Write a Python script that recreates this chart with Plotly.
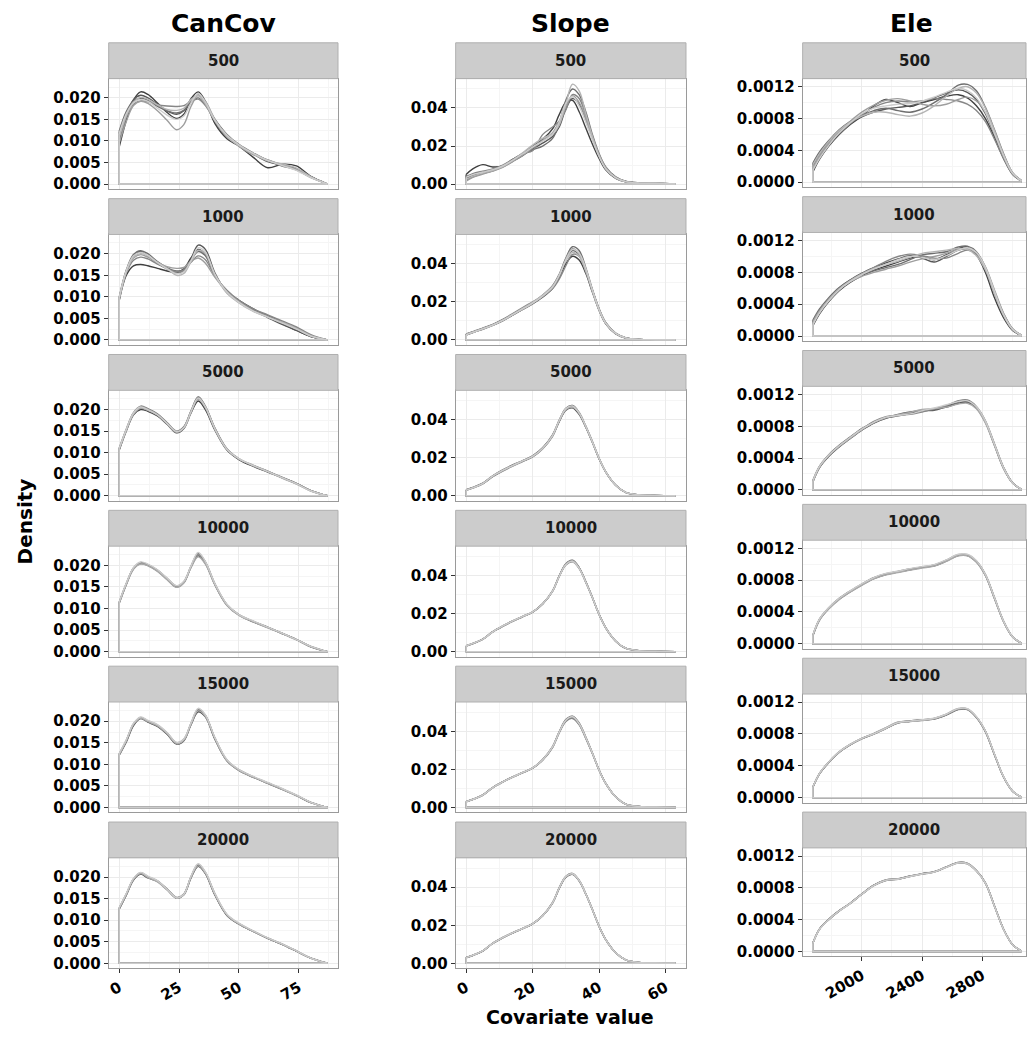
import plotly.graph_objects as go

# ---------------------------------------------------------------------------
# Data: kernel density curves of each covariate, one group of replicate
# curves per sample size.  Values are stored in the unit given by *_UNIT.
# ---------------------------------------------------------------------------
COLUMNS = ["CanCov", "Slope", "Ele"]
SCALES = ["500", "1000", "5000", "10000", "15000", "20000"]

# ---- CanCov (density x 1e-4) ----
CANCOV_UNIT = 1e-4
CANCOV_X = [0, 3, 6, 9, 12, 16, 20, 24, 27, 30, 33, 36, 40, 45, 50, 56, 62, 68, 74, 80, 87]
CANCOV_500 = [
    [85, 148, 195, 214, 208, 188, 166, 152, 162, 198, 214, 192, 140, 105, 88, 62, 38, 46, 42, 18, 0],
    [100, 158, 196, 206, 200, 185, 170, 162, 170, 196, 207, 188, 145, 110, 90, 70, 52, 44, 36, 17, 0],
    [122, 168, 193, 199, 194, 180, 170, 165, 171, 190, 200, 185, 150, 115, 92, 72, 55, 42, 33, 16, 0],
    [110, 156, 186, 193, 191, 184, 181, 180, 182, 192, 197, 182, 148, 114, 90, 70, 56, 44, 34, 16, 0],
    [94, 145, 182, 192, 187, 170, 148, 126, 138, 180, 206, 192, 150, 112, 88, 68, 56, 45, 33, 15, 0],
    [106, 158, 190, 201, 197, 184, 173, 171, 176, 196, 205, 186, 146, 110, 89, 70, 54, 47, 37, 17, 0],
    [116, 163, 189, 196, 192, 176, 160, 150, 158, 188, 210, 190, 148, 113, 91, 71, 55, 43, 32, 15, 0],
]
CANCOV_1000 = [
    [90, 150, 172, 175, 172, 166, 160, 156, 165, 190, 210, 198, 150, 112, 92, 72, 55, 38, 22, 8, 0],
    [95, 160, 195, 205, 195, 178, 165, 155, 160, 188, 220, 210, 155, 110, 88, 68, 52, 36, 22, 8, 0],
    [98, 162, 198, 207, 200, 182, 168, 160, 163, 185, 205, 195, 150, 113, 90, 70, 56, 42, 28, 10, 0],
    [92, 155, 185, 192, 188, 176, 166, 158, 162, 180, 195, 186, 148, 115, 92, 72, 58, 44, 30, 12, 0],
    [96, 158, 190, 198, 192, 180, 170, 166, 168, 183, 190, 178, 145, 112, 89, 68, 54, 40, 26, 9, 0],
    [94, 157, 192, 200, 196, 180, 166, 150, 154, 182, 208, 200, 150, 108, 86, 66, 53, 41, 27, 10, 0],
    [97, 161, 195, 203, 196, 179, 165, 154, 158, 184, 214, 204, 152, 111, 87, 67, 53, 39, 25, 9, 0],
]
CANCOV_5000 = [
    [105, 150, 188, 200, 196, 185, 166, 146, 156, 192, 220, 200, 152, 106, 84, 68, 55, 42, 29, 12, 0],
    [108, 153, 191, 206, 201, 189, 169, 149, 159, 196, 228, 207, 156, 108, 85, 70, 57, 42, 28, 12, 0],
    [110, 155, 193, 208, 202, 190, 170, 150, 160, 197, 230, 208, 157, 109, 86, 69, 56, 43, 28, 11, 0],
    [107, 151, 189, 203, 198, 187, 167, 147, 157, 194, 224, 204, 154, 107, 85, 71, 57, 41, 27, 12, 0],
    [109, 154, 192, 206, 200, 188, 168, 149, 158, 195, 227, 206, 155, 108, 86, 70, 56, 42, 28, 11, 0],
]
CANCOV_10000 = [
    [112, 156, 192, 204, 200, 187, 168, 150, 160, 196, 222, 205, 155, 108, 85, 69, 56, 42, 28, 11, 0],
    [114, 158, 194, 207, 202, 189, 170, 152, 162, 198, 228, 208, 157, 109, 86, 70, 57, 43, 28, 12, 0],
    [113, 157, 193, 205, 201, 188, 169, 151, 161, 197, 225, 206, 156, 108, 85, 70, 56, 42, 28, 11, 0],
    [111, 155, 191, 203, 199, 186, 167, 149, 159, 195, 220, 203, 154, 107, 84, 69, 55, 42, 27, 11, 0],
    [115, 159, 195, 208, 203, 190, 171, 153, 163, 199, 230, 209, 158, 110, 86, 71, 57, 43, 28, 12, 0],
]
CANCOV_15000 = [
    [121, 152, 190, 206, 198, 188, 170, 147, 155, 192, 222, 210, 158, 108, 86, 70, 56, 42, 28, 11, 0],
    [123, 155, 193, 208, 200, 190, 172, 149, 157, 194, 226, 213, 160, 109, 87, 71, 57, 43, 28, 12, 0],
    [124, 156, 194, 209, 201, 191, 173, 150, 158, 195, 228, 214, 161, 110, 87, 71, 57, 43, 28, 12, 0],
    [122, 154, 192, 207, 199, 189, 171, 148, 156, 193, 224, 211, 159, 108, 86, 70, 56, 42, 27, 11, 0],
    [125, 157, 195, 210, 202, 192, 174, 151, 159, 196, 230, 215, 162, 111, 88, 72, 58, 44, 29, 12, 0],
]
CANCOV_20000 = [
    [125, 158, 193, 207, 198, 190, 171, 151, 159, 198, 225, 208, 158, 111, 91, 74, 58, 44, 28, 12, 0],
    [127, 160, 195, 209, 200, 191, 172, 152, 160, 200, 228, 210, 160, 112, 92, 74, 58, 44, 28, 12, 0],
    [128, 161, 196, 210, 201, 191, 173, 153, 161, 201, 230, 211, 161, 113, 92, 75, 59, 45, 29, 12, 0],
    [126, 159, 194, 208, 199, 189, 170, 151, 159, 199, 226, 209, 159, 112, 91, 74, 58, 44, 28, 12, 0],
    [129, 162, 197, 211, 202, 192, 172, 152, 160, 202, 231, 212, 162, 114, 93, 75, 59, 45, 29, 12, 0],
]

# ---- Slope (density x 1e-4) ----
SLOPE_UNIT = 1e-4
SLOPE_X = [0, 2, 5, 8, 11, 14, 17, 20, 23, 26, 28, 30, 32, 34, 36, 38, 40, 42, 45, 48, 52, 57, 63]
SLOPE_500 = [
    [50, 80, 102, 90, 95, 130, 160, 200, 235, 290, 365, 430, 440, 380, 295, 210, 135, 75, 30, 12, 5, 3, 0],
    [30, 45, 60, 75, 95, 120, 150, 185, 215, 250, 300, 395, 450, 420, 340, 240, 150, 85, 35, 14, 6, 4, 0],
    [20, 38, 55, 70, 90, 120, 155, 180, 200, 240, 320, 440, 500, 470, 380, 260, 160, 90, 38, 15, 6, 4, 0],
    [40, 55, 68, 80, 100, 130, 160, 175, 260, 300, 330, 390, 470, 450, 360, 240, 150, 80, 32, 12, 5, 3, 0],
    [15, 35, 52, 68, 88, 118, 150, 190, 230, 270, 330, 410, 465, 430, 345, 245, 155, 88, 36, 14, 6, 5, 0],
    [25, 42, 58, 72, 92, 125, 165, 205, 240, 265, 310, 420, 525, 490, 370, 250, 150, 82, 34, 13, 5, 4, 0],
    [35, 50, 62, 76, 95, 125, 158, 195, 225, 260, 325, 425, 460, 410, 325, 230, 145, 80, 33, 13, 5, 4, 0],
]
SLOPE_1000 = [
    [30, 42, 60, 80, 105, 135, 165, 195, 230, 275, 330, 400, 440, 420, 350, 250, 155, 85, 32, 10, 3, 1, 0],
    [25, 38, 58, 78, 102, 132, 160, 190, 225, 270, 335, 420, 470, 450, 370, 260, 160, 88, 34, 11, 3, 1, 0],
    [28, 40, 56, 76, 100, 130, 162, 195, 235, 285, 345, 430, 490, 470, 380, 265, 162, 90, 35, 11, 3, 1, 0],
    [32, 44, 62, 82, 108, 138, 170, 200, 232, 270, 320, 390, 450, 440, 365, 262, 165, 92, 36, 12, 3, 1, 0],
    [26, 39, 57, 77, 101, 131, 161, 192, 228, 275, 340, 425, 480, 455, 372, 258, 158, 86, 33, 10, 3, 1, 0],
    [29, 41, 59, 79, 104, 134, 166, 198, 236, 282, 342, 415, 460, 440, 360, 255, 158, 87, 34, 11, 3, 1, 0],
    [27, 40, 58, 78, 103, 133, 163, 193, 230, 278, 338, 420, 475, 455, 375, 262, 160, 88, 34, 11, 3, 1, 0],
]
SLOPE_5000 = [
    [30, 42, 64, 102, 132, 158, 182, 206, 248, 315, 390, 450, 462, 428, 360, 280, 195, 125, 55, 18, 5, 2, 0],
    [32, 44, 66, 105, 136, 162, 185, 210, 252, 320, 398, 460, 475, 438, 366, 284, 197, 126, 56, 18, 5, 2, 0],
    [28, 40, 63, 100, 130, 156, 180, 204, 246, 312, 392, 456, 470, 432, 362, 281, 194, 124, 54, 17, 5, 2, 0],
    [31, 43, 65, 104, 134, 160, 184, 208, 250, 318, 394, 452, 465, 434, 365, 285, 198, 127, 56, 18, 5, 2, 0],
    [29, 41, 64, 103, 133, 159, 183, 207, 249, 316, 396, 458, 472, 436, 364, 282, 196, 125, 55, 18, 5, 2, 0],
]
SLOPE_10000 = [
    [30, 42, 65, 104, 134, 160, 184, 208, 250, 318, 396, 458, 475, 440, 366, 283, 196, 125, 55, 18, 5, 2, 0],
    [31, 43, 66, 105, 135, 161, 185, 209, 252, 320, 398, 462, 480, 442, 368, 285, 197, 126, 56, 18, 5, 2, 0],
    [29, 41, 64, 103, 133, 159, 183, 207, 249, 316, 394, 455, 472, 436, 364, 282, 195, 124, 55, 17, 5, 2, 0],
    [30, 42, 65, 104, 134, 160, 184, 208, 251, 319, 397, 460, 478, 441, 367, 284, 196, 125, 55, 18, 5, 2, 0],
    [31, 43, 65, 104, 135, 161, 185, 209, 251, 318, 395, 457, 474, 438, 365, 283, 196, 125, 56, 18, 5, 2, 0],
]
SLOPE_15000 = [
    [30, 42, 65, 104, 134, 160, 183, 207, 250, 317, 395, 456, 473, 438, 366, 284, 197, 126, 55, 18, 5, 2, 0],
    [31, 43, 66, 105, 135, 161, 184, 208, 252, 320, 398, 462, 480, 444, 370, 286, 198, 127, 56, 18, 5, 2, 0],
    [29, 41, 64, 103, 133, 159, 182, 206, 248, 315, 392, 452, 468, 434, 363, 282, 195, 125, 55, 17, 5, 2, 0],
    [30, 42, 65, 104, 134, 160, 183, 207, 250, 318, 396, 458, 476, 440, 367, 285, 197, 126, 56, 18, 5, 2, 0],
    [30, 42, 65, 104, 134, 160, 184, 208, 251, 318, 396, 459, 477, 441, 368, 285, 197, 126, 55, 18, 5, 2, 0],
]
SLOPE_20000 = [
    [29, 41, 64, 104, 134, 159, 182, 207, 249, 316, 393, 453, 468, 433, 364, 281, 194, 124, 55, 18, 5, 2, 0],
    [30, 42, 65, 105, 135, 160, 183, 208, 250, 318, 395, 455, 470, 435, 365, 282, 195, 125, 55, 18, 5, 2, 0],
    [31, 43, 66, 106, 136, 161, 184, 209, 251, 320, 398, 458, 473, 437, 366, 283, 196, 126, 56, 18, 5, 2, 0],
    [30, 42, 65, 105, 135, 160, 183, 208, 250, 317, 394, 454, 469, 434, 364, 282, 195, 125, 55, 18, 5, 2, 0],
    [30, 42, 65, 105, 135, 160, 183, 208, 250, 318, 396, 456, 471, 436, 365, 282, 195, 125, 55, 18, 5, 2, 0],
]

# ---- Ele (density x 1e-6) ----
ELE_UNIT = 1e-6
ELE_X = [1676, 1720, 1780, 1850, 1920, 2000, 2080, 2160, 2240, 2320, 2400,
         2480, 2560, 2640, 2700, 2760, 2820, 2880, 2940, 3000, 3060]
ELE_500 = [
    [130, 290, 450, 600, 720, 830, 960, 1040, 1000, 950, 1000, 1040, 1080, 1100, 1060, 960, 800, 560, 300, 100, 10],
    [200, 350, 500, 640, 740, 820, 880, 920, 940, 960, 1000, 1060, 1120, 1160, 1130, 1040, 860, 600, 320, 110, 15],
    [240, 380, 520, 660, 760, 840, 900, 930, 900, 880, 920, 1000, 1100, 1220, 1230, 1150, 940, 660, 360, 120, 20],
    [160, 310, 470, 610, 730, 850, 940, 1000, 1020, 1010, 1020, 1050, 1040, 1020, 980, 900, 760, 540, 300, 100, 12],
    [180, 330, 490, 640, 760, 880, 970, 1030, 1050, 1020, 980, 960, 980, 1040, 1070, 1020, 880, 620, 340, 115, 18],
    [220, 360, 510, 650, 750, 830, 880, 880, 850, 830, 870, 960, 1080, 1180, 1200, 1120, 930, 650, 350, 120, 20],
    [150, 300, 460, 620, 740, 860, 930, 960, 980, 990, 1020, 1070, 1130, 1180, 1150, 1060, 880, 610, 330, 110, 14],
]
ELE_1000 = [
    [130, 280, 430, 570, 670, 760, 830, 880, 930, 980, 1000, 960, 1020, 1100, 1120, 1020, 800, 480, 230, 70, 5],
    [170, 310, 460, 600, 700, 790, 860, 920, 970, 1010, 980, 930, 1000, 1080, 1100, 1040, 840, 540, 260, 80, 8],
    [200, 340, 480, 610, 700, 770, 820, 860, 900, 960, 1020, 1040, 1060, 1120, 1130, 1060, 860, 560, 280, 90, 10],
    [150, 300, 450, 590, 690, 780, 860, 940, 1000, 1030, 1010, 980, 980, 1040, 1080, 1030, 850, 550, 270, 85, 8],
    [180, 320, 460, 590, 680, 750, 800, 840, 880, 930, 970, 1000, 1040, 1090, 1100, 1050, 870, 580, 290, 95, 10],
    [160, 300, 450, 590, 690, 780, 850, 900, 940, 990, 1040, 1060, 1080, 1100, 1090, 1010, 830, 530, 260, 80, 8],
    [140, 290, 440, 580, 680, 770, 840, 900, 960, 1000, 990, 960, 1010, 1080, 1110, 1050, 860, 560, 270, 85, 8],
]
ELE_5000 = [
    [100, 280, 420, 540, 640, 750, 840, 900, 930, 960, 990, 1010, 1040, 1090, 1100, 1030, 850, 560, 270, 85, 5],
    [120, 300, 440, 560, 660, 770, 850, 910, 950, 980, 1000, 1000, 1050, 1100, 1110, 1040, 860, 570, 280, 90, 6],
    [110, 290, 430, 550, 650, 760, 860, 920, 940, 950, 980, 1020, 1060, 1120, 1130, 1050, 870, 580, 285, 90, 6],
    [100, 285, 425, 545, 645, 755, 845, 905, 945, 975, 1010, 1020, 1040, 1080, 1090, 1020, 840, 555, 270, 85, 5],
    [115, 295, 435, 555, 655, 765, 850, 915, 935, 955, 995, 1030, 1070, 1110, 1120, 1045, 865, 575, 280, 88, 6],
]
ELE_10000 = [
    [100, 300, 440, 560, 650, 740, 820, 870, 900, 930, 960, 980, 1040, 1110, 1110, 1030, 860, 570, 280, 85, 5],
    [110, 310, 450, 570, 660, 750, 830, 880, 910, 940, 965, 990, 1050, 1120, 1120, 1040, 870, 580, 285, 88, 6],
    [105, 305, 445, 565, 655, 745, 825, 875, 905, 935, 960, 985, 1045, 1115, 1115, 1035, 865, 575, 282, 86, 5],
    [100, 295, 435, 555, 645, 735, 815, 865, 895, 925, 950, 975, 1035, 1105, 1105, 1025, 855, 565, 278, 84, 5],
    [115, 312, 452, 572, 662, 752, 832, 884, 912, 945, 970, 994, 1054, 1125, 1125, 1045, 872, 582, 287, 88, 6],
]
ELE_15000 = [
    [130, 300, 440, 570, 660, 740, 800, 870, 940, 960, 975, 990, 1040, 1110, 1110, 1010, 830, 540, 260, 80, 5],
    [135, 305, 445, 575, 665, 745, 805, 875, 945, 965, 980, 995, 1045, 1115, 1115, 1015, 835, 545, 262, 82, 5],
    [128, 298, 438, 568, 658, 738, 798, 868, 936, 956, 972, 986, 1036, 1106, 1106, 1006, 826, 536, 258, 80, 5],
    [132, 302, 442, 572, 662, 742, 808, 880, 950, 958, 970, 992, 1050, 1120, 1112, 1012, 832, 542, 262, 81, 5],
    [136, 306, 446, 576, 666, 746, 802, 872, 942, 962, 978, 998, 1048, 1118, 1118, 1018, 838, 548, 264, 82, 5],
]
ELE_20000 = [
    [105, 280, 400, 510, 600, 720, 830, 895, 910, 945, 975, 1000, 1060, 1115, 1105, 1015, 860, 570, 280, 85, 5],
    [108, 283, 403, 513, 603, 723, 833, 898, 913, 948, 978, 1003, 1063, 1118, 1108, 1018, 863, 573, 282, 86, 5],
    [102, 277, 397, 507, 597, 717, 827, 892, 907, 942, 972, 997, 1057, 1110, 1100, 1010, 855, 565, 278, 84, 5],
    [106, 282, 402, 512, 602, 722, 832, 900, 915, 946, 976, 1002, 1064, 1120, 1110, 1018, 862, 572, 281, 86, 5],
    [104, 279, 399, 509, 599, 719, 829, 893, 908, 943, 973, 998, 1058, 1112, 1102, 1012, 858, 568, 279, 85, 5],
]

# ---- axis ticks ----
CANCOV_XTICKS = [0, 25, 50, 75]
CANCOV_YTICKS = [0, 0.005, 0.010, 0.015, 0.020]
CANCOV_YLABELS = ["0.000", "0.005", "0.010", "0.015", "0.020"]
SLOPE_XTICKS = [0, 20, 40, 60]
SLOPE_YTICKS = [0, 0.02, 0.04]
SLOPE_YLABELS = ["0.00", "0.02", "0.04"]
ELE_XTICKS = [2000, 2400, 2800]
ELE_YTICKS = [0, 0.0004, 0.0008, 0.0012]
ELE_YLABELS = ["0.0000", "0.0004", "0.0008", "0.0012"]

# ---------------------------------------------------------------------------
# Figure assembly
# ---------------------------------------------------------------------------
W, H = 1027, 1038
FONT = "DejaVu Sans"


def fx(px):
    return px / W


def fy(py):
    return 1 - py / H


def midpoints(vals, extra_step=None):
    out = [(a + b) / 2 for a, b in zip(vals[:-1], vals[1:])]
    if extra_step is not None:
        out.append(vals[-1] + extra_step / 2)
    return out


columns = [
    dict(name="CanCov", x=CANCOV_X, unit=CANCOV_UNIT,
         curves=[CANCOV_500, CANCOV_1000, CANCOV_5000, CANCOV_10000, CANCOV_15000, CANCOV_20000],
         left=107, right=337, top=42, pitch=156.6, plot_h=111,
         xrange=[-4.35, 91.35], yrange=[-0.001165, 0.024465],
         xticks=CANCOV_XTICKS, xminor=midpoints(CANCOV_XTICKS, 25),
         yticks=CANCOV_YTICKS, ylabels=CANCOV_YLABELS, yminor=midpoints(CANCOV_YTICKS, 0.005)),
    dict(name="Slope", x=SLOPE_X, unit=SLOPE_UNIT,
         curves=[SLOPE_500, SLOPE_1000, SLOPE_5000, SLOPE_10000, SLOPE_15000, SLOPE_20000],
         left=455, right=686, top=42, pitch=156.6, plot_h=111,
         xrange=[-3.15, 66.15], yrange=[-0.00264, 0.05544],
         xticks=SLOPE_XTICKS, xminor=midpoints(SLOPE_XTICKS),
         yticks=SLOPE_YTICKS, ylabels=SLOPE_YLABELS, yminor=midpoints(SLOPE_YTICKS, 0.02)),
    dict(name="Ele", x=ELE_X, unit=ELE_UNIT,
         curves=[ELE_500, ELE_1000, ELE_5000, ELE_10000, ELE_15000, ELE_20000],
         left=803, right=1027, top=42, pitch=154.6, plot_h=109,
         xrange=[1608, 3089], yrange=[-0.000062, 0.001302],
         xticks=ELE_XTICKS, xminor=[1800] + midpoints(ELE_XTICKS, 400),
         yticks=ELE_YTICKS, ylabels=ELE_YLABELS, yminor=midpoints(ELE_YTICKS, 0.0004)),
]

STRIP_H = 36
fig = go.Figure()
layout = dict(
    width=W, height=H,
    margin=dict(l=0, r=0, t=0, b=0),
    paper_bgcolor="white", plot_bgcolor="white",
    showlegend=False,
    shapes=[], annotations=[],
)

line_w = 1.4


def grey(i, n):
    level = 0.25 + 0.55 * (i / (n - 1) if n > 1 else 0)
    v = int(round(level * 255))
    return f"rgb({v},{v},{v})"


for c, col in enumerate(columns):
    xs = col["x"]
    for r, scale in enumerate(SCALES):
        k = c * len(SCALES) + r + 1
        xa = "x" if k == 1 else f"x{k}"
        ya = "y" if k == 1 else f"y{k}"
        strip_top = col["top"] + r * col["pitch"]
        plot_top = strip_top + STRIP_H
        plot_bot = plot_top + col["plot_h"]
        bottom_row = r == len(SCALES) - 1

        curves = col["curves"][r]
        n = len(curves)
        for i, vals in enumerate(curves):
            ys = [v * col["unit"] for v in vals]
            color = grey(i, n)
            # closing outline of the density polygon
            fig.add_trace(go.Scatter(
                x=[xs[0], xs[0], xs[-1]], y=[ys[0], 0, 0], mode="lines",
                line=dict(color=color, width=line_w),
                xaxis=xa, yaxis=ya, hoverinfo="skip"))
            fig.add_trace(go.Scatter(
                x=xs, y=ys, mode="lines",
                line=dict(color=color, width=line_w, shape="spline", smoothing=1.0),
                xaxis=xa, yaxis=ya, hoverinfo="skip"))

        axis_common = dict(
            showline=True, linecolor="#9a9a9a", linewidth=1, mirror=True,
            showgrid=True, gridcolor="#ebebeb", gridwidth=1,
            zeroline=False, fixedrange=True,
        )
        layout[f"xaxis{k}" if k > 1 else "xaxis"] = dict(
            axis_common,
            domain=[fx(col["left"]), fx(col["right"])],
            anchor=ya, range=col["xrange"],
            tickmode="array", tickvals=col["xticks"],
            ticktext=[str(t) for t in col["xticks"]],
            showticklabels=bottom_row,
            ticks="outside" if bottom_row else "",
            ticklen=4, tickcolor="#333333", tickwidth=1,
            tickangle=-30,
            tickfont=dict(family=FONT, size=15, color="black", weight="bold"),
            minor=dict(tickmode="array", tickvals=col["xminor"], showgrid=True,
                       gridcolor="#f5f5f5", gridwidth=1, ticklen=0),
        )
        layout[f"yaxis{k}" if k > 1 else "yaxis"] = dict(
            axis_common,
            domain=[fy(plot_bot), fy(plot_top)],
            anchor=xa, range=col["yrange"],
            tickmode="array", tickvals=col["yticks"], ticktext=col["ylabels"],
            ticks="outside", ticklen=4, tickcolor="#333333", tickwidth=1,
            tickfont=dict(family=FONT, size=15, color="black", weight="bold"),
            minor=dict(tickmode="array", tickvals=col["yminor"], showgrid=True,
                       gridcolor="#f5f5f5", gridwidth=1, ticklen=0),
        )

        # facet strip
        layout["shapes"].append(dict(
            type="rect", xref="paper", yref="paper",
            x0=fx(col["left"]), x1=fx(col["right"]),
            y0=fy(plot_top), y1=fy(strip_top),
            fillcolor="#cccccc", line=dict(color="#b0b0b0", width=1), layer="above"))
        layout["annotations"].append(dict(
            xref="paper", yref="paper",
            x=fx((col["left"] + col["right"]) / 2), y=fy(strip_top + STRIP_H / 2),
            text=scale, showarrow=False, xanchor="center", yanchor="middle",
            font=dict(family=FONT, size=15, color="#1a1a1a", weight="bold")))

    # column title
    layout["annotations"].append(dict(
        xref="paper", yref="paper",
        x=fx((col["left"] + min(col["right"], 1022)) / 2), y=fy(23),
        text=col["name"], showarrow=False, xanchor="center", yanchor="middle",
        font=dict(family=FONT, size=25, color="black", weight="bold")))

layout["annotations"].append(dict(
    xref="paper", yref="paper", x=fx(24), y=fy(523), text="Density",
    textangle=-90, showarrow=False, xanchor="center", yanchor="middle",
    font=dict(family=FONT, size=20, color="black", weight="bold")))
layout["annotations"].append(dict(
    xref="paper", yref="paper", x=fx(570), y=fy(1021), text="Covariate value",
    showarrow=False, xanchor="center", yanchor="middle",
    font=dict(family=FONT, size=19, color="black", weight="bold")))

fig.update_layout(**layout)
fig.write_html("out.html", config={"displayModeBar": False})
